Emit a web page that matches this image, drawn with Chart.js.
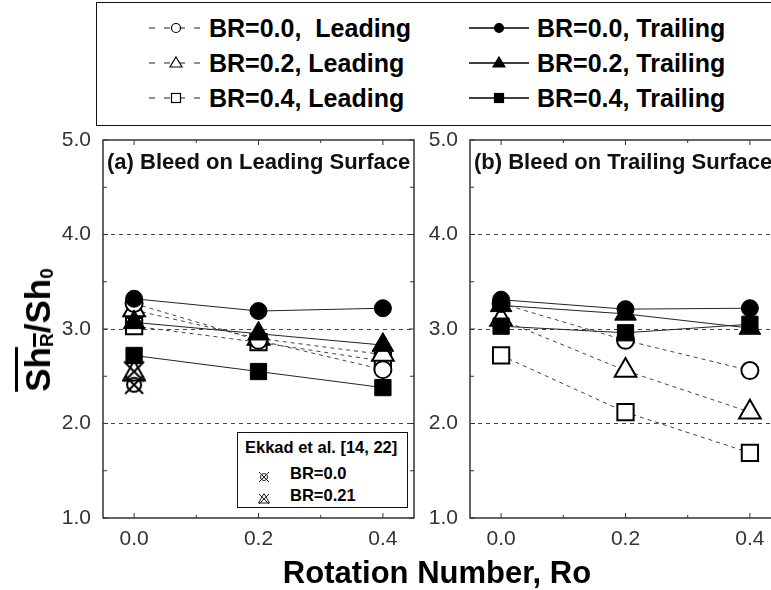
<!DOCTYPE html>
<html>
<head>
<meta charset="utf-8">
<script src="https://cdn.jsdelivr.net/npm/chart.js@4"></script>
<style>
  html, body { margin: 0; padding: 0; background: #fff; }
  body { width: 771px; height: 590px; position: relative; overflow: hidden; font-family: 'Liberation Sans', Arial, sans-serif; }
  canvas { position: absolute; }
  #legend { position: absolute; left: 96px; top: 2px; width: 700px; height: 122px; border: 1.5px solid #111; }
  .lg { position: absolute; font-weight: bold; font-size: 25px; line-height: 26px; color: #000; white-space: pre; }
  .lgsym { position: absolute; }
  .ptitle { position: absolute; font-size: 22px; font-weight: bold; color: #111; white-space: pre; }
  #inset { position: absolute; left: 237px; top: 432px; width: 169px; height: 74px; border: 1.5px solid #111; background: #fff; }
  .inl { position: absolute; font-size: 16.5px; font-weight: bold; white-space: pre; }
  #ytitle { position: absolute; left: 38px; top: 330px; transform: translate(-50%, -50%) rotate(-90deg); font-size: 35px; font-weight: bold; white-space: nowrap; }
  #ytitle sub { font-size: 19px; vertical-align: -3px; }
  #xtitle { position: absolute; left: 437px; top: 573px; transform: translate(-50%, -50%); font-size: 31px; font-weight: bold; white-space: nowrap; }
</style>
</head>
<body>
<div id="legend"></div>
<canvas id="chartA" width="400" height="435" style="left:30px; top:125px;"></canvas>
<canvas id="chartB" width="400" height="435" style="left:397px; top:125px;"></canvas>
<div class="ptitle" style="left:107px; top:149px;">(a) Bleed on Leading Surface</div>
<div class="ptitle" style="left:474px; top:149px;">(b) Bleed on Trailing Surface</div>
<div id="inset"></div>
<div id="ytitle"><span style="text-decoration: overline;">Sh<sub>R</sub></span>/Sh<sub>0</sub></div>
<div id="xtitle">Rotation Number, Ro</div>
<script>
// rotation numbers
const ro = [0, 0.2, 0.4];
const roEkkad = [0];

// (a) bleed on leading surface
const aLead00 = [3.27, 2.88, 2.57];
const aLead02 = [3.20, 2.90, 2.73];
const aLead04 = [3.03, 2.86, 2.66];
const aTrail00 = [3.32, 3.19, 3.22];
const aTrail02 = [3.07, 2.95, 2.83];
const aTrail04 = [2.72, 2.55, 2.38];

// Ekkad et al. [14, 22]
const ekkad00 = [2.41];
const ekkad021 = [2.55];

// (b) bleed on trailing surface
const bLead00 = [3.27, 2.88, 2.56];
const bLead02 = [3.10, 2.56, 2.12];
const bLead04 = [2.72, 2.12, 1.69];
const bTrail00 = [3.31, 3.21, 3.22];
const bTrail02 = [3.25, 3.16, 3.01];
const bTrail04 = [3.03, 2.96, 3.05];

const leadLabels = ['BR=0.0,  Leading', 'BR=0.2, Leading', 'BR=0.4, Leading'];
const trailLabels = ['BR=0.0, Trailing', 'BR=0.2, Trailing', 'BR=0.4, Trailing'];
const ekkadLabels = ['BR=0.0', 'BR=0.21'];
const shapes = ['circle', 'triangle', 'rect'];

const yMajor = [1, 2, 3, 4, 5];
const yMinor = [1.5, 2.5, 3.5, 4.5];
const xMajor = [0, 0.2, 0.4];
const xMinor = [0.1, 0.3];

const radius = { circle: 8.5, triangle: 12.5, rect: 11.5 };

// small canvases for the crossed Ekkad symbols
function ekkadSymbol(kind, s) {
  const c = document.createElement('canvas');
  c.width = s; c.height = s;
  const g = c.getContext('2d');
  g.strokeStyle = '#000';
  g.lineWidth = 2;
  const p = 2;
  g.beginPath();
  g.moveTo(p, p); g.lineTo(s - p, s - p);
  g.moveTo(s - p, p); g.lineTo(p, s - p);
  g.stroke();
  g.beginPath();
  if (kind === 'circle') {
    g.arc(s / 2, s / 2, s / 2 - 4, 0, Math.PI * 2);
  } else {
    g.moveTo(s / 2, 1);
    g.lineTo(s - 1, s - 3);
    g.lineTo(1, s - 3);
    g.closePath();
  }
  g.stroke();
  return c;
}

function leadSet(data, i) {
  return {
    data: ro.map((x, k) => ({ x: x, y: data[k] })),
    borderColor: '#444', borderWidth: 1, borderDash: [4, 4],
    pointStyle: shapes[i], pointRadius: radius[shapes[i]],
    pointBackgroundColor: '#fff', pointBorderColor: '#000', pointBorderWidth: 2,
    order: 2
  };
}
function trailSet(data, i) {
  return {
    data: ro.map((x, k) => ({ x: x, y: data[k] })),
    borderColor: '#222', borderWidth: 1,
    pointStyle: shapes[i], pointRadius: radius[shapes[i]],
    pointBackgroundColor: '#000', pointBorderColor: '#000', pointBorderWidth: 1,
    order: 1
  };
}

// frame with inward ticks on all four sides
const framePlugin = {
  id: 'frame',
  afterDraw(chart) {
    const { ctx, chartArea: a, scales: { x, y } } = chart;
    ctx.save();
    ctx.strokeStyle = '#333';
    ctx.lineWidth = 1.5;
    ctx.strokeRect(a.left, a.top, a.right - a.left, a.bottom - a.top);
    ctx.lineWidth = 1;
    ctx.beginPath();
    const tick = (vals, len) => {
      vals.forEach(v => {
        const py = y.getPixelForValue(v);
        ctx.moveTo(a.left, py); ctx.lineTo(a.left + len, py);
        ctx.moveTo(a.right, py); ctx.lineTo(a.right - len, py);
      });
    };
    tick(yMajor, 5); tick(yMinor, 4);
    const xt = (vals, len) => {
      vals.forEach(v => {
        const px = x.getPixelForValue(v);
        ctx.moveTo(px, a.bottom); ctx.lineTo(px, a.bottom - len);
        ctx.moveTo(px, a.top); ctx.lineTo(px, a.top + len);
      });
    };
    xt(xMajor, 5); xt(xMinor, 3);
    ctx.stroke();
    ctx.restore();
  }
};

function makeChart(id, lead, trail, extra) {
  const datasets = trail.map(trailSet).concat(lead.map(leadSet)).concat(extra);
  return new Chart(document.getElementById(id), {
    type: 'line',
    data: { datasets: datasets },
    options: {
      responsive: false,
      animation: false,
      layout: { padding: { top: 15, right: 16, left: 0, bottom: 0 } },
      plugins: { legend: { display: false }, tooltip: { enabled: false } },
      scales: {
        x: {
          type: 'linear', min: -0.05, max: 0.45,
          afterBuildTicks: s => { s.ticks = xMajor.map(v => ({ value: v })); },
          afterFit: s => { s.height = 42; s.paddingLeft = 0; s.paddingRight = 0; },
          grid: { display: false, drawTicks: false },
          border: { display: false },
          ticks: { padding: 9, color: '#333', font: { family: "'Liberation Sans', Arial", size: 21 },
            callback: v => v.toFixed(1) }
        },
        y: {
          min: 1, max: 5,
          afterBuildTicks: s => { s.ticks = yMajor.map(v => ({ value: v })); },
          afterFit: s => { s.width = 73; s.paddingTop = 0; s.paddingBottom = 0; },
          grid: {
            drawTicks: false, lineWidth: 1,
            color: c => (c.tick && c.tick.value > 1 && c.tick.value < 5) ? '#444' : 'rgba(0,0,0,0)'
          },
          border: { display: false, dash: [4, 4] },
          ticks: { padding: 12, color: '#333', font: { family: "'Liberation Sans', Arial", size: 21 },
            callback: v => v.toFixed(1) }
        }
      }
    },
    plugins: [framePlugin]
  });
}

const ekkadSets = [
  { data: roEkkad.map((x, k) => ({ x: x, y: ekkad021[k] })), showLine: false,
    pointStyle: ekkadSymbol('triangle', 24), order: 3 },
  { data: roEkkad.map((x, k) => ({ x: x, y: ekkad00[k] })), showLine: false,
    pointStyle: ekkadSymbol('circle', 22), order: 3 }
];

makeChart('chartA', [aLead00, aLead02, aLead04], [aTrail00, aTrail02, aTrail04], ekkadSets);
makeChart('chartB', [bLead00, bLead02, bLead04], [bTrail00, bTrail02, bTrail04], []);

// legend box on top
function symSvg(shape, filled, dashed, w) {
  const cx = w / 2, cy = 10;
  const fill = filled ? '#000' : '#fff';
  let mark;
  if (shape === 'circle') mark = `<circle cx="${cx}" cy="${cy}" r="4.5" fill="${fill}" stroke="#000" stroke-width="1.2"/>`;
  else if (shape === 'triangle') mark = `<polygon points="${cx},${cy - 6} ${cx + 6},${cy + 4} ${cx - 6},${cy + 4}" fill="${fill}" stroke="#000" stroke-width="1.2"/>`;
  else mark = `<rect x="${cx - 4.5}" y="${cy - 4.5}" width="9" height="9" fill="${fill}" stroke="#000" stroke-width="1.2"/>`;
  const line = dashed
    ? `<line x1="0" y1="${cy}" x2="${w}" y2="${cy}" stroke="#222" stroke-width="1.2" stroke-dasharray="6,9"/>`
    : `<line x1="0" y1="${cy}" x2="${w}" y2="${cy}" stroke="#000" stroke-width="1.5"/>`;
  return `<svg width="${w}" height="20">${line}${mark}</svg>`;
}
const legend = document.getElementById('legend');
let html = '';
for (let i = 0; i < 3; i++) {
  const cy = 25 + 35 * i;
  html += `<div class="lgsym" style="left:52px; top:${cy - 10}px;">${symSvg(shapes[i], false, true, 54)}</div>`;
  html += `<div class="lg" style="left:112px; top:${cy - 13}px;">${leadLabels[i]}</div>`;
  html += `<div class="lgsym" style="left:372px; top:${cy - 10}px;">${symSvg(shapes[i], true, false, 60)}</div>`;
  html += `<div class="lg" style="left:440px; top:${cy - 13}px;">${trailLabels[i]}</div>`;
}
legend.innerHTML = html;

// inset legend for Ekkad et al.
const inset = document.getElementById('inset');
let ih = `<div class="inl" style="left:7px; top:5px;">Ekkad et al. [14, 22]</div>`;
const insetSyms = [
  `<svg width="12" height="12"><circle cx="6" cy="6" r="3.5" fill="none" stroke="#222" stroke-width="1"/><path d="M1,1 L11,11 M11,1 L1,11" stroke="#222" stroke-width="1"/></svg>`,
  `<svg width="12" height="12"><polygon points="6,0.5 11.5,10 0.5,10" fill="none" stroke="#222" stroke-width="1"/><path d="M1,1 L11,11 M11,1 L1,11" stroke="#222" stroke-width="1"/></svg>`
];
ekkadLabels.forEach((t, i) => {
  const top = 33 + 22 * i;
  ih += `<div class="lgsym" style="left:20px; top:${top + 3}px;">${insetSyms[i]}</div>`;
  ih += `<div class="inl" style="left:52px; top:${top - 2}px;">${t}</div>`;
});
inset.innerHTML = ih;
</script>
</body>
</html>
